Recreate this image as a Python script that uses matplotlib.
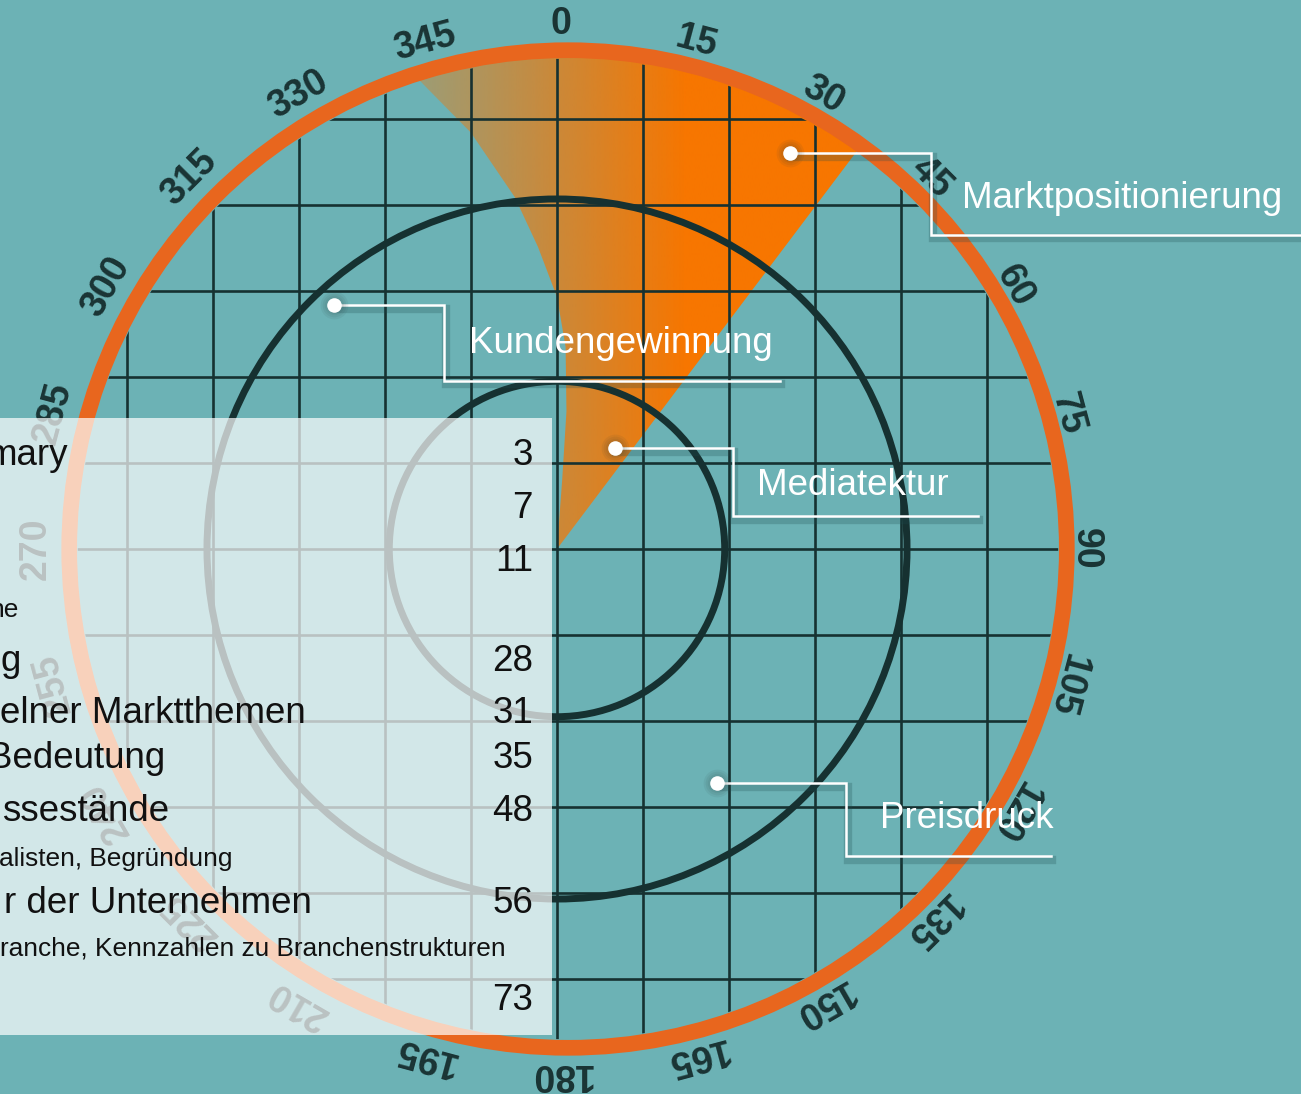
import numpy as np
import matplotlib.pyplot as plt
from matplotlib.patches import Circle, Rectangle, Polygon
import matplotlib.patheffects as pe

plt.rcParams['font.family'] = ['Liberation Sans', 'DejaVu Sans']

# ---- data (grid units, 1 unit = one grid cell) ----
degree_ticks = list(range(0, 360, 15))
ring_radii = [1.95, 4.07]          # the two dark circles
outer_ring_radius = 5.80           # orange ring

# orange sector: curved left edge and straight right edge
sector_left_x = [0.0, 0.06, 0.11, 0.10, 0.0, -0.22, -0.49, -1.0, -1.60]
sector_left_y = [0.0, 0.80, 1.60, 2.35, 2.93, 3.51, 4.09, 4.84, 5.45]
sector_right_bearing = 37.0

# callouts: bearing (deg, clockwise from top) and radius of the dot
callout_names = ['Marktpositionierung', 'Kundengewinnung', 'Mediatektur', 'Preisdruck']
callout_bearing = [30.5, 317.6, 29.9, 145.6]
callout_radius = [5.34, 3.84, 1.35, 3.30]

# table of contents on the light panel (cut off at the left edge)
toc_titles = ['mary', '', '', 'g', 'elner Marktthemen', 'Bedeutung',
              'ssestände', 'r der Unternehmen', '']
toc_pages = [3, 7, 11, 28, 31, 35, 48, 56, 73]
toc_notes = ['ne', 'alisten, Begründung',
             'ranche, Kennzahlen zu Branchenstrukturen']

# ---- layout ----
W, H = 1301, 1094
PX = 86.0
CX, CY = 557, 549


def ux(px):
    return (px - CX) / PX


def uy(py):
    return (CY - py) / PX


BG = '#6cb2b5'
DARK = '#163131'
ORANGE_RING = '#e8661e'
ORANGE = np.array([247, 118, 0]) / 255.0
ring_c = np.array([0.128, 0.0])

fig = plt.figure(figsize=(W / 100, H / 100), dpi=100)
fig.patch.set_facecolor(BG)
ax = fig.add_axes([0, 0, 1, 1])
ax.axis('off')

# orange sector with gradient
b_left = np.degrees(np.arctan2(sector_left_x[-1] - ring_c[0], sector_left_y[-1] - ring_c[1]))
tip = 5.9 * np.array([np.sin(np.radians(sector_right_bearing)), np.cos(np.radians(sector_right_bearing))])
b_right = np.degrees(np.arctan2(tip[0] - ring_c[0], tip[1] - ring_c[1]))
arc_b = np.radians(np.linspace(b_left, b_right, 80))
arc_x = ring_c[0] + 5.78 * np.sin(arc_b)
arc_y = ring_c[1] + 5.78 * np.cos(arc_b)
verts = list(zip(sector_left_x, sector_left_y)) + list(zip(arc_x, arc_y)) + [(0, 0)]
sector = Polygon(verts, closed=True, facecolor='none', edgecolor='none')
ax.add_patch(sector)
gx = np.linspace(-2.5, 4.5, 400)
img = np.zeros((1, gx.size, 4))
img[..., :3] = ORANGE
img[..., 3] = np.clip(0.69 + 0.21 * gx, 0, 1)
im = ax.imshow(img, extent=(gx[0], gx[-1], -0.2, 6.2), origin='lower',
               aspect='auto', interpolation='bilinear', zorder=1)
im.set_clip_path(sector)

# grid clipped to a circle
clip = Circle(ring_c, 5.70, transform=ax.transData)
for g in range(-7, 8):
    for xs, ys in (([g, g], [-7, 7]), ([-7, 9], [g, g])):
        ln, = ax.plot(xs, ys, color=DARK, lw=1.9, zorder=2, solid_capstyle='butt')
        ln.set_clip_path(clip)

# dark circles and the orange ring
for r in ring_radii:
    ax.add_patch(Circle((0, 0), r, fill=False, edgecolor=DARK, lw=5.0, zorder=3))
ax.add_patch(Circle(ring_c, outer_ring_radius, fill=False, edgecolor=ORANGE_RING, lw=11.3, zorder=4))

# degree labels
for d in degree_ticks:
    t = np.radians(d)
    ax.text(0.04 + 6.15 * np.sin(t), 6.15 * np.cos(t), str(d), rotation=-d,
            rotation_mode='anchor', ha='center', va='center_baseline', fontsize=27,
            fontweight='bold', color='#1a3434', zorder=4)

# light panel with table of contents
ax.add_patch(Rectangle((ux(-10), uy(1035)), ux(552) - ux(-10), uy(418) - uy(1035),
                       facecolor='white', alpha=0.70, edgecolor='none', zorder=5))
title_end = [68, 0, 0, 21, 306, 165, 169, 312, 0]
row_base = [465, 518, 571, 671, 723, 768, 821, 913, 1010]
for title, page, xe, yb in zip(toc_titles, toc_pages, title_end, row_base):
    if title:
        ax.text(ux(xe), uy(yb), title, ha='right', va='baseline', fontsize=26.5,
                color='#111111', zorder=6)
    ax.text(ux(533), uy(yb), str(page), ha='right', va='baseline', fontsize=26.5,
            color='#111111', zorder=6)
note_end = [19, 233, 506]
note_base = [617, 866, 955]
for note, xe, yb in zip(toc_notes, note_end, note_base):
    ax.text(ux(xe), uy(yb), note, ha='right', va='baseline', fontsize=18.9,
            color='#111111', zorder=6)

# callouts
run = [1.64, 1.28, 1.37, 1.50]
drop = [0.95, 0.88, 0.79, 0.85]
underline = [4.6, 3.90, 2.85, 2.38]
text_dx = [0.36, 0.29, 0.28, 0.395]
text_dy = [0.314, 0.326, 0.244, 0.326]
shadow = [pe.SimpleLineShadow(offset=(1, -2.5), shadow_color='#1d4b4e', alpha=0.25, linewidth=6),
          pe.Normal()]
for name, b, r, ru, dr, ul, tdx, tdy in zip(callout_names, callout_bearing, callout_radius,
                                            run, drop, underline, text_dx, text_dy):
    x0 = r * np.sin(np.radians(b))
    y0 = r * np.cos(np.radians(b))
    xe = x0 + ru
    yb = y0 - dr
    ax.plot([x0, xe, xe, xe + ul], [y0, y0, yb, yb], color='white', lw=1.8,
            solid_joinstyle='miter', zorder=8, path_effects=shadow)
    for ms in (20, 17, 14):
        ax.plot(x0, y0, 'o', ms=ms, color='#2a3a3a', alpha=0.07, mec='none', zorder=8)
    ax.plot(x0, y0, 'o', ms=10.5, color='white', mec='none', zorder=9)
    ax.text(xe + tdx, yb + tdy, name, ha='left', va='baseline', fontsize=26.5,
            color='white', zorder=9)

ax.set_xlim(ux(0), ux(W))
ax.set_ylim(uy(H), uy(0))
fig.savefig('out.png', dpi=100, facecolor=fig.get_facecolor())
